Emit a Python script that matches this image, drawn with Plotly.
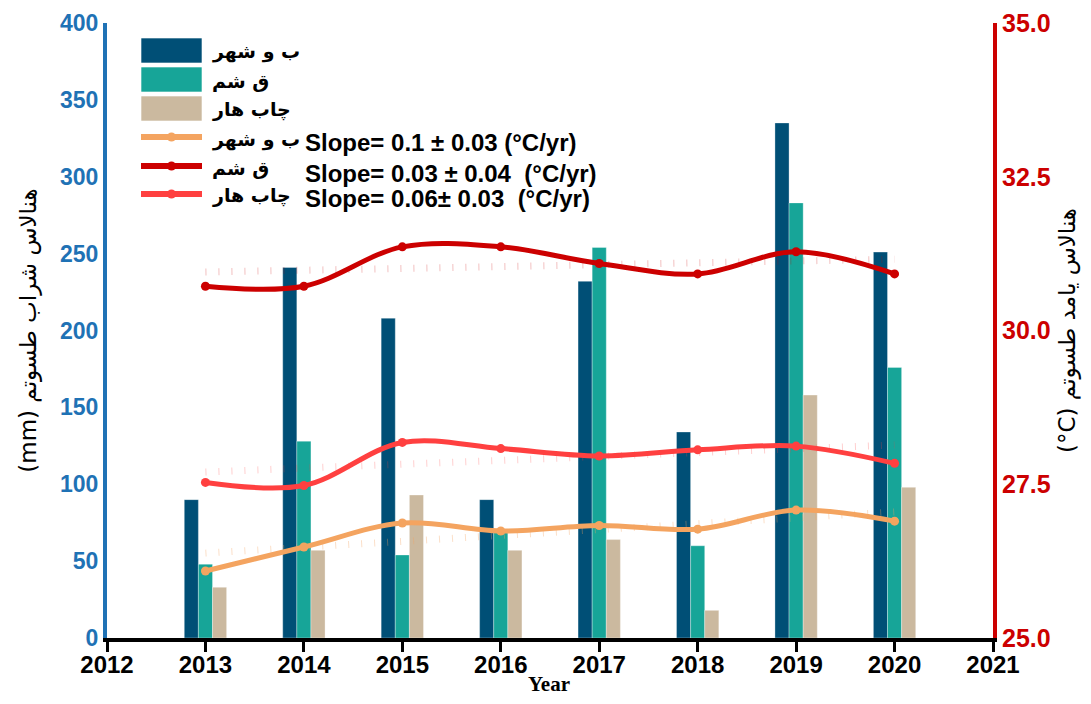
import plotly.graph_objects as go

years = [2013, 2014, 2015, 2016, 2017, 2018, 2019, 2020]

# Rainfall (mm)
rain_bushehr = [90, 241, 208, 90, 232, 134, 335, 251]
rain_qeshm = [48, 128, 54, 69, 254, 60, 283, 176]
rain_chabahar = [33, 57, 93, 57, 64, 18, 158, 98]

# Temperature (°C)
temp_bushehr = [26.09, 26.48, 26.87, 26.74, 26.83, 26.77, 27.08, 26.90]
temp_qeshm = [30.72, 30.72, 31.36, 31.36, 31.09, 30.92, 31.28, 30.92]
temp_chabahar = [27.53, 27.48, 28.18, 28.08, 27.96, 28.06, 28.12, 27.84]

# Linear trend end points (°C)
trend_years = [2013, 2020]
trend_bushehr = [26.38, 27.05]
trend_qeshm = [30.95, 31.16]
trend_chabahar = [27.70, 28.14]

names = ["ب و شهر", "ق شم", "چاب هار"]
slope_texts = ["Slope= 0.1 ± 0.03 (°C/yr)",
               "Slope= 0.03 ± 0.04  (°C/yr)",
               "Slope= 0.06± 0.03  (°C/yr)"]

bar_colors = ["#004f76", "#17a598", "#cbb99f"]
line_colors = ["#f4a460", "#cc0000", "#ff4040"]
trend_colors = ["rgba(244,164,96,0.35)", "rgba(204,0,0,0.25)", "rgba(255,64,64,0.25)"]

LRO, PDF = "\u202d", "\u202c"
left_title = LRO + "(mm) متوسط بارش سالانه" + PDF
right_title = LRO + "(°C) متوسط دمای سالانه" + PDF

OFF = 8  # page body margin
W, H = 1091 - 2 * OFF, 704 - 2 * OFF
ML, MT = 107 - OFF, 23 - OFF
MR, MB = W - (993 - OFF), H - (638 - OFF)
PW, PH = W - ML - MR, H - MT - MB


def px(x):
    return (x - OFF - ML) / PW


def py(y):
    return 1 - (y - OFF - MT) / PH


fig = go.Figure()

for name, vals, col in zip(names, [rain_bushehr, rain_qeshm, rain_chabahar], bar_colors):
    fig.add_trace(go.Bar(x=years, y=vals, name=name, showlegend=False,
                         marker=dict(color=col, line=dict(color="rgba(255,255,255,0.4)", width=0.8)),
                         yaxis="y"))

for tr, col in zip([trend_bushehr, trend_qeshm, trend_chabahar], trend_colors):
    fig.add_trace(go.Scatter(x=trend_years, y=tr, mode="lines", showlegend=False,
                             line=dict(color=col, width=7, dash="1px,12px"), yaxis="y2", hoverinfo="skip"))

for name, vals, col in zip(names, [temp_bushehr, temp_qeshm, temp_chabahar], line_colors):
    fig.add_trace(go.Scatter(x=years, y=vals, name=name, mode="lines+markers", showlegend=False,
                             line=dict(color=col, width=5, shape="spline"),
                             marker=dict(color=col, size=9), yaxis="y2"))

# Custom legend (large swatches as in the reference)
legend_font = dict(family="DejaVu Sans, Arial", size=19, color="black")
bar_rows = [(38, 63), (67, 92), (96, 121)]
for (y0, y1), col, name in zip(bar_rows, bar_colors, names):
    fig.add_shape(type="rect", xref="paper", yref="paper", x0=px(141), x1=px(202), y0=py(y1), y1=py(y0),
                  fillcolor=col, line=dict(color="rgba(255,255,255,0.6)", width=1))
    fig.add_annotation(text="<b>" + name + "</b>", xref="paper", yref="paper", x=px(210), y=py((y0 + y1) / 2 + 1),
                       xanchor="left", yanchor="middle", showarrow=False, font=legend_font)

line_rows = [137, 166, 194]
for yc, col, name in zip(line_rows, line_colors, names):
    fig.add_shape(type="line", xref="paper", yref="paper", x0=px(141), x1=px(202), y0=py(yc), y1=py(yc),
                  line=dict(color=col, width=6))
    fig.add_shape(type="circle", xref="paper", yref="paper", x0=px(167), x1=px(176), y0=py(yc + 4.5), y1=py(yc - 4.5),
                  fillcolor=col, line=dict(color=col, width=0))
    fig.add_annotation(text="<b>" + name + "</b>", xref="paper", yref="paper", x=px(210), y=py(yc + 2),
                       xanchor="left", yanchor="middle", showarrow=False, font=legend_font)

for t, yc in zip(slope_texts, [143, 173, 199]):
    fig.add_annotation(text="<b>" + t + "</b>", xref="paper", yref="paper",
                       x=px(303), y=py(yc), xanchor="left", yanchor="middle",
                       showarrow=False, font=dict(family="Liberation Sans, Arial", size=24, color="black"))

# x-axis title
fig.add_annotation(text="<b>Year</b>", xref="paper", yref="paper", x=px(549), y=py(684),
                   xanchor="center", yanchor="middle", showarrow=False,
                   font=dict(family="Liberation Serif, Times New Roman", size=21, color="black"))

fig.update_layout(
    width=W, height=H,
    margin=dict(l=ML, r=MR, t=MT, b=MB),
    paper_bgcolor="white", plot_bgcolor="white",
    barmode="group", bargap=0.57, bargroupgap=0,
    showlegend=False,
    xaxis=dict(range=[2012, 2021], dtick=1, tick0=2012, showgrid=False, zeroline=False, automargin=False,
               showline=True, linecolor="black", linewidth=4,
               ticks="outside", ticklen=10, tickwidth=3, tickcolor="black", ticklabelstandoff=-8,
               tickfont=dict(family="Liberation Sans, Arial", size=24, color="black", weight="bold")),
    yaxis=dict(range=[0, 400], dtick=50, showgrid=False, zeroline=False, automargin=False,
               showline=True, linecolor="#1f72b5", linewidth=4,
               tickfont=dict(family="Liberation Sans, Arial", size=23, color="#1f72b5", weight="bold"),
               title=dict(text=left_title, font=dict(family="DejaVu Sans, Arial", size=23, color="black"), standoff=18)),
    yaxis2=dict(range=[25, 35], dtick=2.5, tickformat=".1f", overlaying="y", side="right",
                showgrid=False, zeroline=False, automargin=False,
                showline=True, linecolor="#cc0000", linewidth=4,
                tickfont=dict(family="Liberation Sans, Arial", size=25, color="#cc0000", weight="bold"),
                title=dict(text=right_title, font=dict(family="DejaVu Sans, Arial", size=23, color="black"), standoff=10)),
)

fig.write_html("out.html")
